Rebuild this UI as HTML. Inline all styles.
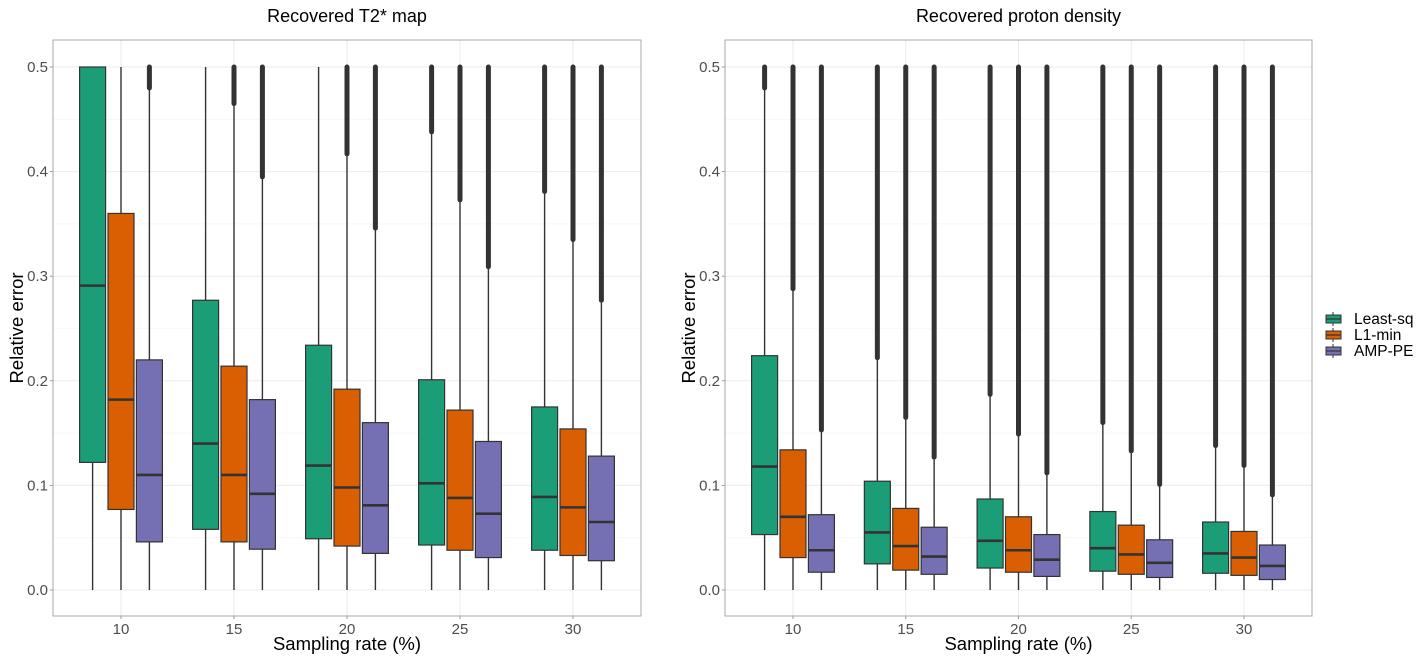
<!DOCTYPE html>
<html><head><meta charset="utf-8"><style>
body{margin:0;background:#fff;}
svg text{font-family:"Liberation Sans",sans-serif;}
</style></head><body>
<svg id="chart" width="1421" height="660" xmlns="http://www.w3.org/2000/svg"></svg>
<script>
const categories=[10,15,20,25,30];
const seriesNames=["Least-sq","L1-min","AMP-PE"];
const colors=["#1b9e77","#d95f02","#7570b3"];
const yTicks=[0,0.1,0.2,0.3,0.4,0.5];
const yTickLabels=["0.0","0.1","0.2","0.3","0.4","0.5"];
// [low, q1, median, q3, whiskerTop, outlierMax] per series per category
const t2Least=[[0,.122,.291,.5,.5,null],[0,.058,.140,.277,.5,null],[0,.049,.119,.234,.5,null],[0,.043,.102,.201,.438,.5],[0,.038,.089,.175,.381,.5]];
const t2L1=[[0,.077,.182,.36,.5,null],[0,.046,.110,.214,.465,.5],[0,.042,.098,.192,.417,.5],[0,.038,.088,.172,.373,.5],[0,.033,.079,.154,.335,.5]];
const t2Amp=[[0,.046,.110,.220,.48,.5],[0,.039,.092,.182,.395,.5],[0,.035,.081,.160,.346,.5],[0,.031,.073,.142,.309,.5],[0,.028,.065,.128,.277,.5]];
const pdLeast=[[0,.053,.118,.224,.48,.5],[0,.025,.055,.104,.222,.5],[0,.021,.047,.087,.187,.5],[0,.018,.040,.075,.160,.5],[0,.016,.035,.065,.138,.5]];
const pdL1=[[0,.031,.070,.134,.288,.5],[0,.019,.042,.078,.165,.5],[0,.017,.038,.070,.149,.5],[0,.015,.034,.062,.133,.5],[0,.014,.031,.056,.119,.5]];
const pdAmp=[[0,.017,.038,.072,.153,.5],[0,.015,.032,.060,.127,.5],[0,.013,.029,.053,.112,.5],[0,.012,.026,.048,.101,.5],[0,.010,.023,.043,.091,.5]];

const NS="http://www.w3.org/2000/svg";
const svg=document.getElementById('chart');
function mk(tag,attrs,parent){const e=document.createElementNS(NS,tag);for(const k in attrs)e.setAttribute(k,attrs[k]);(parent||svg).appendChild(e);return e;}

function panel(px0,px1,title,data,key){
  const top=40,bot=616;
  const y=v=>590-v*1046;
  const catStart=px0+68, step=(px1-px0-136)/4;
  const x=i=>catStart+i*step;
  const g=mk('g',{});
  
  
  mk('rect',{x:px0,y:top,width:px1-px0,height:bot-top,fill:'#fff'},g);
  for(let i=0;i<yTicks.length;i++){
    const l=mk('line',{x1:px0,x2:px1,y1:y(yTicks[i]),y2:y(yTicks[i]),stroke:'#ebebeb','stroke-width':1},g);
    
    if(i<yTicks.length-1) mk('line',{x1:px0,x2:px1,y1:y(yTicks[i]+0.05),y2:y(yTicks[i]+0.05),stroke:'#f3f3f3','stroke-width':0.6},g);
    mk('line',{x1:px0-3,x2:px0,y1:y(yTicks[i]),y2:y(yTicks[i]),stroke:'#999','stroke-width':1},g);
    const t=mk('text',{x:px0-5,y:y(yTicks[i])+5,'text-anchor':'end','font-size':15,fill:'#4d4d4d'},g);
    t.textContent=yTickLabels[i];
    
  }
  categories.forEach((c,i)=>{
    mk('line',{x1:x(i),x2:x(i),y1:top,y2:bot,stroke:'#ebebeb','stroke-width':1},g);
    mk('line',{x1:x(i),x2:x(i),y1:bot,y2:bot+3,stroke:'#999','stroke-width':1},g);
    const t=mk('text',{x:x(i),y:bot+18,'text-anchor':'middle','font-size':15,fill:'#4d4d4d'},g);
    t.textContent=c;
    
  });
  data.forEach((ser,s)=>{
    ser.forEach((d,i)=>{
      const cx=x(i)+(s-1)*28.4, w=26;
      const bg=mk('g',{},g);
      
      
      mk('line',{x1:cx,x2:cx,y1:y(d[0]),y2:y(d[4]),stroke:'#333','stroke-width':1.4},bg);
      if(d[5]!==null) mk('line',{x1:cx,x2:cx,y1:y(d[4]),y2:y(d[5]),stroke:'#333','stroke-width':5,'stroke-linecap':'round'},bg);
      mk('rect',{x:cx-w/2,y:y(d[3]),width:w,height:y(d[1])-y(d[3]),fill:colors[s],stroke:'#333','stroke-width':1.2},bg);
      mk('line',{x1:cx-w/2,x2:cx+w/2,y1:y(d[2]),y2:y(d[2]),stroke:'#333','stroke-width':2.6},bg);
    });
  });
  mk('rect',{x:px0,y:top,width:px1-px0,height:bot-top,fill:'none',stroke:'#a8a8a8','stroke-width':1},g);
  const tt=mk('text',{x:(px0+px1)/2,y:22,'text-anchor':'middle','font-size':18,fill:'#000'},g);
  tt.textContent=title;
  const xt=mk('text',{x:(px0+px1)/2,y:650,'text-anchor':'middle','font-size':18.5,fill:'#000'},g);
  xt.textContent='Sampling rate (%)';
  const yt=mk('text',{x:0,y:0,'text-anchor':'middle','font-size':18.5,fill:'#000',transform:`translate(${px0-30},${(top+bot)/2}) rotate(-90)`},g);
  yt.textContent='Relative error';
}
panel(53,641,'Recovered T2* map',[t2Least,t2L1,t2Amp],'t2');
panel(725,1312,'Recovered proton density',[pdLeast,pdL1,pdAmp],'pd');
// legend
seriesNames.forEach((n,s)=>{
  const lg=mk('g',{});
  
  
  const cy=319+s*16;
  mk('line',{x1:1333,x2:1333,y1:cy-7,y2:cy+7,stroke:'#333','stroke-width':1},lg);
  mk('rect',{x:1326,y:cy-4,width:15,height:8,fill:colors[s],stroke:'#333','stroke-width':1},lg);
  mk('line',{x1:1326,x2:1341,y1:cy,y2:cy,stroke:'#333','stroke-width':1.2},lg);
  const t=mk('text',{x:1354,y:cy+5,'font-size':15.5,fill:'#000'},lg);
  t.textContent=n;
});
</script>
</body></html>
